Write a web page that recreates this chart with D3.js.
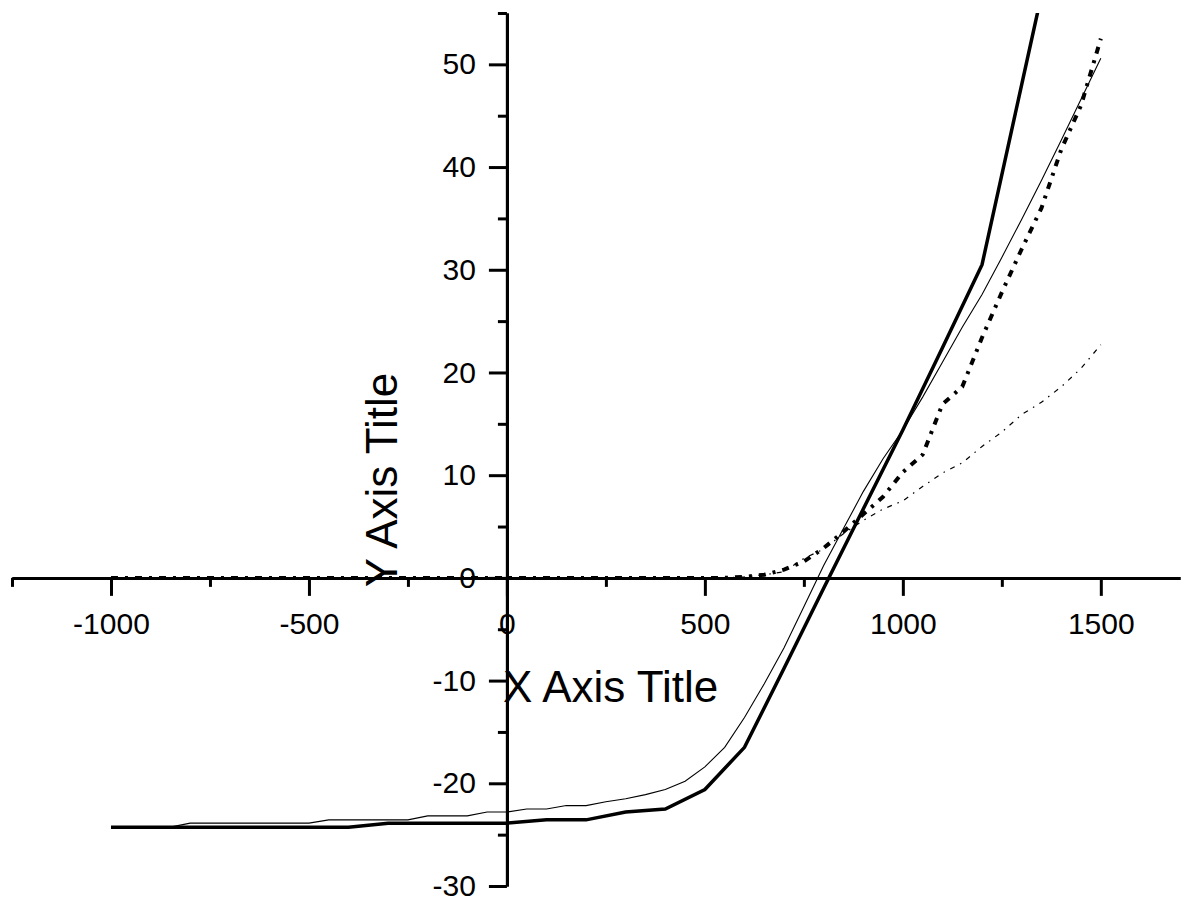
<!DOCTYPE html>
<html>
<head>
<meta charset="utf-8">
<script src="https://cdn.jsdelivr.net/npm/d3@7"></script>
<style>
  body { margin: 0; background: #fff; }
  svg { display: block; font-family: "Liberation Sans", Arial, sans-serif; }
</style>
</head>
<body>
<svg id="chart"></svg>
<script>
// tick values
const xMajorTicks = [-1000, -500, 0, 500, 1000, 1500];
const xMinorTicks = [-1250, -750, -250, 250, 750, 1250];
const yMajorTicks = [-30, -20, -10, 0, 10, 20, 30, 40, 50];
const yMinorTicks = [-25, -15, -5, 5, 15, 25, 35, 45, 55];

// series 1: thick solid
const s1X = [-1000, -900, -800, -700, -600, -500, -400, -300, -200, -100, 0, 100, 200, 300, 400, 500, 600, 700, 800, 900, 1000, 1100, 1200, 1300, 1400];
const s1Y = [-24.27, -24.27, -24.27, -24.27, -24.27, -24.27, -24.27, -23.88, -23.88, -23.88, -23.88, -23.56, -23.56, -22.8, -22.5, -20.6, -16.5, -8.8, -1.0, 6.7, 14.4, 22.4, 30.5, 48.0, 65.5];

// series 2: thin solid
const s2X = [-1000, -950, -900, -850, -800, -750, -700, -650, -600, -550, -500, -450, -400, -350, -300, -250, -200, -150, -100, -50, 0, 50, 100, 150, 200, 250, 300, 350, 400, 450, 500, 550, 600, 650, 700, 750, 800, 850, 900, 950, 1000, 1050, 1100, 1150, 1200, 1250, 1300, 1350, 1400, 1450, 1500];
const s2Y = [-24.27, -24.27, -24.27, -24.27, -23.88, -23.88, -23.88, -23.88, -23.88, -23.88, -23.88, -23.56, -23.56, -23.56, -23.56, -23.56, -23.17, -23.17, -23.17, -22.8, -22.8, -22.5, -22.5, -22.17, -22.17, -21.8, -21.5, -21.1, -20.6, -19.8, -18.4, -16.5, -13.6, -10.3, -6.8, -2.8, 1.2, 4.8, 8.4, 11.6, 14.4, 17.6, 21.0, 24.4, 27.6, 31.2, 34.9, 38.7, 42.6, 46.6, 50.6];

// series 3: thick dash-dot
const s3X = [-1000, -500, 0, 500, 550, 600, 650, 700, 750, 800, 850, 900, 950, 1000, 1050, 1100, 1150, 1200, 1250, 1300, 1350, 1400, 1450, 1500];
const s3Y = [0, 0, 0, 0, 0, 0.1, 0.3, 0.8, 1.6, 2.9, 4.5, 6.2, 7.9, 10.3, 12.0, 16.9, 18.6, 23.4, 27.8, 32.0, 36.0, 41.7, 46.0, 52.5];

// series 4: thin dotted
const s4X = [-1000, -500, 0, 500, 550, 600, 650, 700, 750, 800, 850, 900, 950, 1000, 1050, 1100, 1150, 1200, 1250, 1300, 1350, 1400, 1450, 1500];
const s4Y = [0, 0, 0, 0, 0, 0.1, 0.3, 0.6, 1.9, 2.8, 4.3, 5.6, 6.7, 7.5, 8.9, 10.2, 11.2, 12.8, 14.2, 15.9, 17.1, 18.6, 20.4, 22.7];

const width = 1187,
  height = 897;

const svg = d3.select("#chart")
  .attr("width", width)
  .attr("height", height);

// scales
const x = d3.scaleLinear().domain([-1250, 1700]).range([12, 1180]);
const y = d3.scaleLinear().domain([-30, 55]).range([886, 13]);

// clip to plot area
svg.append("clipPath")
  .attr("id", "plot-clip")
  .append("rect")
  .attr("x", x(-1250))
  .attr("y", y(55))
  .attr("width", x(1700) - x(-1250))
  .attr("height", y(-30) - y(55));

const series = [
  { xs: s1X, ys: s1Y, width: 3.5, dash: null },
  { xs: s2X, ys: s2Y, width: 1.1, dash: null },
  { xs: s3X, ys: s3Y, width: 4, dash: "7,7,3,7" },
  { xs: s4X, ys: s4Y, width: 1.2, dash: "5,6,1.5,6" }
];

const line = d3.line()
  .x(d => x(d[0]))
  .y(d => y(d[1]));

svg.append("g")
  .attr("clip-path", "url(#plot-clip)")
  .selectAll("path.series")
  .data(series)
  .enter()
  .append("path")
  .attr("class", "series")
  .attr("d", d => line(d.xs.map((v, i) => [v, d.ys[i]])))
  .attr("fill", "none")
  .attr("stroke", "#000")
  .attr("stroke-width", d => d.width)
  .attr("stroke-dasharray", d => d.dash)
  .attr("stroke-linejoin", "miter");

const fmt = d => String(d);

// axes crossing at zero
const xAxisG = svg.append("g").attr("transform", `translate(0,${y(0)})`);
xAxisG.call(d3.axisBottom(x).tickValues(xMinorTicks).tickSize(9).tickSizeOuter(0).tickFormat(""));
xAxisG.append("g").call(d3.axisBottom(x).tickValues(xMajorTicks).tickSize(18).tickSizeOuter(0).tickPadding(17).tickFormat(fmt));

const yAxisG = svg.append("g").attr("transform", `translate(${x(0)},0)`);
yAxisG.call(d3.axisLeft(y).tickValues(yMinorTicks).tickSize(9).tickSizeOuter(0).tickFormat(""));
yAxisG.append("g").call(d3.axisLeft(y).tickValues(yMajorTicks).tickSize(18).tickSizeOuter(0).tickPadding(13).tickFormat(fmt));

svg.selectAll(".domain, .tick line")
  .attr("stroke", "#000")
  .attr("stroke-width", 3);

svg.selectAll(".tick text")
  .attr("fill", "#000")
  .style("font-size", "30px")
  .style("font-family", "'Liberation Sans', Arial, sans-serif");

// axis titles
svg.append("text")
  .attr("x", 503)
  .attr("y", 702)
  .style("font-size", "44px")
  .attr("fill", "#000")
  .text("X Axis Title");

svg.append("text")
  .attr("transform", "translate(397,480) rotate(-90)")
  .attr("text-anchor", "middle")
  .style("font-size", "44px")
  .attr("fill", "#000")
  .text("Y Axis Title");
</script>
</body>
</html>
